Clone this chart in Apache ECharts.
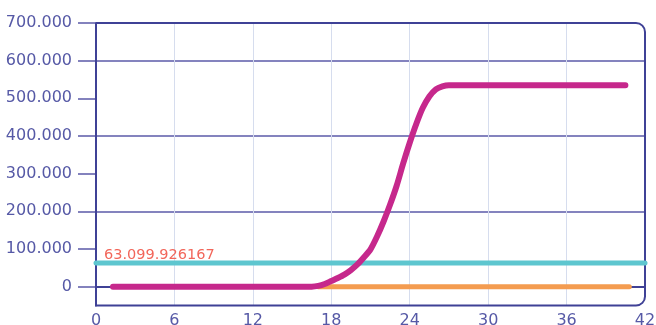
<!DOCTYPE html>
<html>
<head>
<meta charset="utf-8">
<script src="https://cdn.jsdelivr.net/npm/echarts@6/dist/echarts.min.js"></script>
<style>
  html, body { margin: 0; padding: 0; background: #fff; }
  #chart { width: 656px; height: 325px; }
</style>
</head>
<body>
<div id="chart"></div>
<script>
// 数据
const xTicks = [0, 6, 12, 18, 24, 30, 36, 42];
const yTicks = [0, 100, 200, 300, 400, 500, 600, 700];
const curveX = [1.3, 10, 16.5, 17, 17.5, 18, 18.5, 19, 19.5, 20, 20.5, 21, 21.5, 22, 22.5, 23, 23.5, 24, 24.5, 25, 25.5, 26, 26.5, 27, 28, 34, 40.5];
const curveY = [0, 0, 0, 2, 7, 15, 23, 32, 44, 59, 78, 99, 133, 173, 218, 268, 327, 382, 432, 475, 505, 524, 532, 535, 535, 535, 535];
const baseX = [17, 40.8];
const baseY = [0, 0];
const refX = [0, 42];
const refY = [63.1, 63.1];
const refLabel = '63.099.926167';

const navy = '#3f4196';
const labelColor = '#5659a6';

// 绘图区位置
const grid = { left: 96, right: 11, top: 23, bottom: 19.5, outerBoundsMode: 'none' };
const W = 656, H = 325;

const myChart = echarts.init(document.getElementById('chart'));

const option = {
  animation: false,
  grid: grid,
  xAxis: {
    type: 'value',
    min: 0,
    max: 42,
    interval: 6,
    axisLine: { show: true, lineStyle: { color: navy, width: 2 } },
    axisTick: { show: false },
    axisLabel: {
      color: labelColor,
      fontSize: 16,
      fontFamily: 'DejaVu Sans',
      margin: 7,
    },
    splitLine: {
      show: true,
      showMinLine: false,
      showMaxLine: false,
      lineStyle: { color: '#d6ddee', width: 1 },
    },
  },
  yAxis: {
    type: 'value',
    min: -50,
    max: 700,
    interval: 50,
    axisLine: { show: true, onZero: false, lineStyle: { color: navy, width: 2 } },
    axisTick: {
      show: true,
      length: 18,
      customValues: yTicks,
      lineStyle: { color: '#5b5aa8', width: 1.5 },
    },
    axisLabel: {
      customValues: yTicks,
      color: labelColor,
      fontSize: 16,
      fontFamily: 'DejaVu Sans',
      margin: 24,
      formatter: (v) => (v === 0 ? '0' : v.toFixed(3)),
    },
    splitLine: {
      show: true,
      showMinLine: false,
      lineStyle: { color: ['transparent', '#5b5aa8'], width: 1.5 },
    },
  },
  graphic: [
    {
      // 右侧圆角边框
      type: 'rect',
      silent: true,
      z: 1,
      shape: {
        x: grid.left,
        y: grid.top,
        width: W - grid.left - grid.right,
        height: H - grid.top - grid.bottom,
        r: [0, 9, 9, 0],
      },
      style: { fill: 'none', stroke: navy, lineWidth: 2 },
    },
  ],
  series: [
    {
      type: 'line',
      name: 'ref',
      showSymbol: true,
      symbol: 'circle',
      symbolSize: 0,
      z: 3,
      data: refX.map((x, i) => {
        const item = { value: [x, refY[i]] };
        if (i === 0) {
          item.label = {
            show: true,
            position: [8, -15],
            formatter: refLabel,
            color: '#f2665a',
            fontSize: 14.5,
            fontFamily: 'DejaVu Sans',
          };
        }
        return item;
      }),
      lineStyle: { color: '#5ec6cf', width: 5, cap: 'round' },
    },
    {
      type: 'line',
      name: 'base',
      showSymbol: false,
      symbol: 'none',
      z: 3,
      data: baseX.map((x, i) => [x, baseY[i]]),
      lineStyle: { color: '#f49c50', width: 5, cap: 'round' },
    },
    {
      type: 'line',
      name: 'curve',
      showSymbol: false,
      symbol: 'none',
      smooth: 0.25,
      z: 4,
      data: curveX.map((x, i) => [x, curveY[i]]),
      lineStyle: { color: '#c6288c', width: 6, cap: 'round', join: 'round' },
    },
  ],
};
myChart.setOption(option, true);
</script>
</body>
</html>
